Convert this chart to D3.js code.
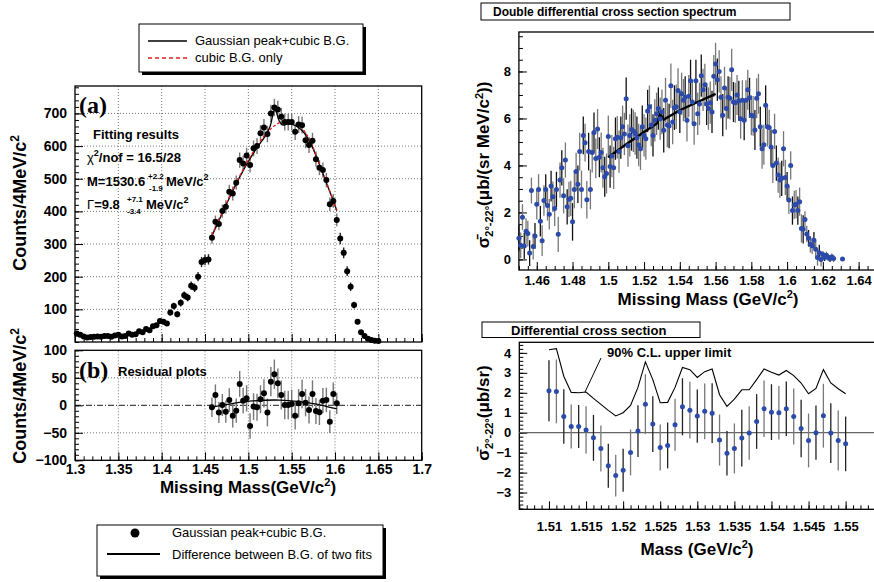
<!DOCTYPE html>
<html lang="en">
<head>
<meta charset="UTF-8">
<title>Missing mass spectra</title>
<script src="https://d3js.org/d3.v7.min.js"></script>
<style>
  body { margin: 0; background: #fff; }
  svg { font-family: "Liberation Sans", Arial, Helvetica, sans-serif; }
  .domain { display: none; }
  .tick line { stroke: #000; }
</style>
</head>
<body>
<svg width="874" height="582"></svg>
<script>
// ---------- panel (a): counts per 4 MeV/c2, first bin at 1.302 GeV ----------
const countsStart = 1.302, countsStep = 0.004;
const counts = [26, 22, 17, 14, 15, 16, 17, 16, 18, 18,
  16, 20, 22, 17, 18, 26, 22, 24, 33, 30,
  40, 36, 48, 51, 64, 62, 57, 90, 110, 85,
  120, 143, 136, 172, 166, 200, 245, 251, 253, 319,
  368, 361, 401, 414, 460, 455, 488, 557, 547, 571,
  542, 593, 600, 639, 657, 637, 700, 718, 712, 690,
  674, 674, 674, 644, 666, 664, 618, 603, 616, 560,
  534, 527, 496, 422, 432, 374, 317, 273, 217, 169,
  113, 62, 30, 18, 10, 6, 4, 3];
const fitFirstBin = 39, fitLastBin = 75;

// fit curves
const peakFitMass = [1.458, 1.47, 1.48, 1.49, 1.50, 1.51, 1.52, 1.525, 1.5306, 1.536, 1.54, 1.545, 1.55, 1.56, 1.57, 1.58, 1.59, 1.60, 1.602];
const peakFit     = [325, 395, 452, 505, 553, 595, 633, 660, 712, 675, 664, 668, 667, 652, 618, 557, 488, 418, 402];
const bgOnlyMass  = [1.458, 1.47, 1.48, 1.49, 1.50, 1.51, 1.52, 1.53, 1.54, 1.55, 1.56, 1.57, 1.58, 1.59, 1.60, 1.602];
const bgOnly      = [328, 397, 455, 508, 557, 600, 637, 662, 676, 676, 660, 623, 560, 490, 420, 404];

// ---------- panel (b): residuals, same bins as the fit range ----------
const residuals = [-3.6, 18.8, -13, 0.6, -11.5, 9.7, -19, -9.7, 38.8, 8.5,
  12.7, -37.6, -2.4, -3.6, 10.9, 21.8, -13, 43, 56.4, 40,
  18.8, 0.6, 0.6, 2.4, -18.8, 3.6, 20.6, 4.8, -8.5, 20.6,
  -10.3, -12.7, 8.5, 9.7, -29.7, 20.6, 3.6];
const bgDiffMass = [1.458, 1.4826, 1.5057, 1.5365, 1.5596, 1.5788, 1.598, 1.602];
const bgDiff     = [-3.5, 3.5, 8, 9.5, 6.5, 2, -5, -6];

// ---------- top right: double differential cross section, 1 MeV bins from 1.450 ----------
const ddStart = 1.450, ddStep = 0.001;
const ddValues = [0.9, 0.6, 1.8, 0.57, 1.2, 1.1, 0.27, 2.93, 0.55, 1.0,
  2.35, 2.98, 1.63, 0.8, 2.51, 2.98, 2.3, 1.92, 3.12, 2.67,
  2.17, 2.98, 1.07, 3.38, 3.9, 2.71, 4.23, 2.24, 2.56, 2.6,
  1.6, 2.98, 3.74, 3.2, 4.59, 2.98, 5.28, 4.97, 2.54, 4.59,
  2.98, 4.55, 5.4, 4.3, 5.55, 4.35, 4.55, 3.9, 3.52, 3.66,
  5.23, 3.95, 4.4, 3.9, 5.14, 5.2, 4.59, 5.18, 5.65, 5.34,
  6.84, 4.84, 5.28, 5.53, 5.47, 5.36, 5.18, 4.87, 4.71, 5.65,
  5.28, 5.14, 6.32, 6.5, 5.72, 5.28, 5.92, 6.2, 6.42, 5.99,
  6.28, 5.5, 6.78, 5.72, 5.68, 7.39, 5.85, 6.46, 6.5, 7.19,
  6.28, 7.05, 6.78, 6.9, 5.92, 6.95, 7.6, 6.7, 5.78, 7.6,
  6.2, 6.62, 7.82, 7.22, 7.43, 6.62, 6.42, 6.67, 6.28, 7.8,
  8.32, 7.65, 8.0, 6.9, 6.14, 7.3, 6.42, 6.9, 6.86, 8.07,
  6.7, 6.67, 7.0, 6.75, 5.99, 6.78, 5.92, 6.78, 7.22, 6.88,
  6.14, 6.11, 5.51, 6.86, 7.05, 5.65, 4.71, 4.88, 6.56, 5.65,
  5.62, 4.78, 4.0, 5.45, 4.1, 3.59, 3.38, 3.45, 4.71, 3.49,
  3.12, 2.53, 4.0, 2.08, 2.32, 2.35, 2.08, 2.46, 1.32, 1.28,
  1.7, 1.08, 0.9, 0.65, 0.58, 0.82, 0.43, 0.08, 0.28, 0.0,
  0.21, 0.08, 0.18, 0.08, 0.04, 0.1, 0.04, null, null, null,
  null, 0.02];
// error size read per block of 10 bins
const ddErrBlock = [0.55, 0.65, 0.75, 0.8, 0.85, 0.9, 0.9, 0.9, 0.95, 0.9,
  0.9, 0.9, 0.85, 0.85, 0.75, 0.6, 0.35, 0.15, 0.08];
const ddFitMass = [1.50, 1.51, 1.52, 1.527, 1.529, 1.531, 1.54, 1.55, 1.56];
const ddFit     = [4.35, 4.9, 5.42, 5.78, 6.2, 5.95, 6.35, 6.7, 7.05];

// ---------- bottom right: differential cross section, 1 MeV bins from 1.510 ----------
const dcsStart = 1.510, dcsStep = 0.001;
const dcs = [2.1, 2.07, 0.81, 0.31, 0.31, 0.14, -0.26, -0.79, -1.66, -2.15,
  -1.88, -0.99, 0.08, 1.43, 0.43, -0.74, -0.64, 0.4, 1.3, 1.13,
  0.83, 1.07, 0.98, -0.37, -1.03, -0.79, -0.27, -0.02, 0.56, 1.2,
  1.03, 1.0, 1.2, 0.81, 0.21, -0.39, 0.0, 0.85, -0.02, -0.39, -0.56];
const dcsErr = [1.53, 1.6, 1.37, 1.1, 1.08, 1.18, 1.15, 1.15, 1.1, 1.05,
  1.08, 1.15, 1.3, 1.5, 1.4, 1.15, 1.15, 1.3, 1.43, 1.42,
  1.33, 1.4, 1.5, 1.28, 1.12, 1.25, 1.42, 1.34, 1.37, 1.42,
  1.4, 1.34, 1.37, 1.4, 1.44, 1.35, 1.36, 1.6, 1.5, 1.5, 1.37];
const upperLimit = [4.16, 4.21, 2.83, 2.02, 2.0, 2.04, 1.72, 1.42, 1.12, 0.84,
  1.0, 1.37, 2.27, 3.55, 2.66, 1.5, 1.52, 2.27, 3.27, 3.16,
  2.77, 3.06, 3.19, 1.9, 1.32, 1.68, 2.15, 2.15, 2.66, 3.19,
  3.03, 2.89, 3.12, 2.86, 2.49, 1.95, 2.22, 3.16, 2.49, 2.2, 1.95];

const svg = d3.select("svg");
svg.append("rect").attr("width", 874).attr("height", 582).attr("fill", "#fff");

const BLUE = "#2b4aaa";

// draws ROOT-like inward ticks (major + minor) and a frame
function frame(x, y, o) {
    const g = svg.append("g");
    const [xl, xr] = x.range(), [yb, yt] = y.range();
    const addAxis = (axis, tr) => {
        const a = g.append("g").attr("transform", tr).call(axis)
            .attr("font-size", o.fontSize || 13).attr("font-family", null)
            .attr("font-weight", "bold");
        a.selectAll(".tick line").attr("stroke-width", 1);
        return a;
    };
    // x axis
    addAxis(d3.axisBottom(x).tickValues(o.xMinor).tickSize(-4).tickFormat(""), `translate(0,${yb})`);
    addAxis(d3.axisBottom(x).tickValues(o.xMajor).tickSize(-8).tickPadding(o.xPad || 4)
        .tickFormat(o.xLabels ? o.xFmt : ""), `translate(0,${yb})`);
    // y axis
    addAxis(d3.axisLeft(y).tickValues(o.yMinor).tickSize(-4).tickFormat(""), `translate(${xl},0)`);
    addAxis(d3.axisLeft(y).tickValues(o.yMajor).tickSize(-8).tickPadding(o.yPad || 8)
        .tickFormat(o.yFmt || d3.format("")), `translate(${xl},0)`);
    g.append("rect").attr("x", xl).attr("y", yt).attr("width", xr - xl).attr("height", yb - yt)
        .attr("fill", "none").attr("stroke", "#000").attr("stroke-width", 1.3);
    return g;
}

function grid(x, y, xs, ys) {
    const g = svg.append("g").attr("stroke", "#555").attr("stroke-width", 0.8)
        .attr("stroke-dasharray", "1,2");
    g.selectAll(".gx").data(xs).join("line")
        .attr("x1", d => x(d)).attr("x2", d => x(d)).attr("y1", y.range()[0]).attr("y2", y.range()[1]);
    g.selectAll(".gy").data(ys).join("line")
        .attr("y1", d => y(d)).attr("y2", d => y(d)).attr("x1", x.range()[0]).attr("x2", x.range()[1]);
}

function label(txt, x, y, size, opts = {}) {
    return svg.append("text").attr("x", x).attr("y", y).attr("font-size", size)
        .attr("font-weight", opts.weight || "bold").attr("text-anchor", opts.anchor || "start")
        .attr("font-family", opts.family || null).text(txt);
}

// ================= panel (a) =================
const xa = d3.scaleLinear([1.3, 1.7], [75, 421.7]);
const ya = d3.scaleLinear([0, 784], [342, 86]);
const yb = d3.scaleLinear([-100, 100], [460.3, 350.3]);

grid(xa, ya, d3.range(1.35, 1.69, 0.05), d3.range(100, 701, 100));
grid(xa, yb, d3.range(1.35, 1.69, 0.05), [-50, 50]);

frame(xa, ya, {
    xMajor: d3.range(1.3, 1.701, 0.05), xMinor: d3.range(1.3, 1.701, 0.01), xLabels: false,
    yMajor: d3.range(100, 701, 100), yMinor: d3.range(0, 781, 20), fontSize: 14
});
frame(xa, yb, {
    xMajor: d3.range(1.3, 1.701, 0.05), xMinor: d3.range(1.3, 1.701, 0.01), xLabels: true,
    xFmt: d3.format(".2~f"), xPad: 4,
    yMajor: [-100, -50, 0, 50, 100], yMinor: d3.range(-100, 101, 10), fontSize: 14
});

const aPts = counts.map((c, i) => ({ m: countsStart + i * countsStep, c, i }));
svg.append("g").selectAll("line").data(aPts).join("line")
    .attr("x1", d => xa(d.m)).attr("x2", d => xa(d.m))
    .attr("y1", d => ya(d.c + Math.sqrt(d.c))).attr("y2", d => ya(Math.max(0, d.c - Math.sqrt(d.c))))
    .attr("stroke", d => d.i >= fitFirstBin && d.i <= fitLastBin ? "#777" : "#222").attr("stroke-width", 1.4);

const lineA = d3.line().curve(d3.curveCatmullRom);
svg.append("path").attr("d", lineA(peakFitMass.map((m, i) => [xa(m), ya(peakFit[i])])))
    .attr("fill", "none").attr("stroke", "#000").attr("stroke-width", 1.3);
svg.append("path").attr("d", lineA(bgOnlyMass.map((m, i) => [xa(m), ya(bgOnly[i])])))
    .attr("fill", "none").attr("stroke", "#e02020").attr("stroke-width", 1.3)
    .attr("stroke-dasharray", "3,2");

svg.append("g").selectAll("circle").data(aPts).join("circle")
    .attr("cx", d => xa(d.m)).attr("cy", d => ya(d.c)).attr("r", 3).attr("fill", "#000");

// ================= panel (b) =================
svg.append("line").attr("x1", 75).attr("x2", 421.7).attr("y1", yb(0)).attr("y2", yb(0))
    .attr("stroke", "#000").attr("stroke-width", 0.9).attr("stroke-dasharray", "6,2,1,2");

const bPts = residuals.map((r, k) => ({ m: countsStart + (fitFirstBin + k) * countsStep, r,
    e: Math.sqrt(counts[fitFirstBin + k]) }));
svg.append("g").selectAll("line").data(bPts).join("line")
    .attr("x1", d => xa(d.m)).attr("x2", d => xa(d.m))
    .attr("y1", d => yb(d.r + d.e)).attr("y2", d => yb(d.r - d.e))
    .attr("stroke", "#777").attr("stroke-width", 1.4);
svg.append("path").attr("d", lineA(bgDiffMass.map((m, i) => [xa(m), yb(bgDiff[i])])))
    .attr("fill", "none").attr("stroke", "#000").attr("stroke-width", 1.3);
svg.append("g").selectAll("circle").data(bPts).join("circle")
    .attr("cx", d => xa(d.m)).attr("cy", d => yb(d.r)).attr("r", 3).attr("fill", "#000");

// panel texts
label("(a)", 79, 113, 24, { family: "'Liberation Serif', 'Times New Roman', serif" });
label("(b)", 79, 378, 24, { family: "'Liberation Serif', 'Times New Roman', serif" });
label("Residual plots", 118, 376, 13);
label("Fitting results", 93, 139, 13);
const chi = label("χ", 87, 162, 13).attr("font-weight", "normal");
chi.append("tspan").attr("font-size", 9).attr("dy", -6).attr("font-weight", "bold").text("2");
chi.append("tspan").attr("dy", 6).attr("font-weight", "bold").text("/nof = 16.5/28");
label("M=1530.6", 87, 186, 13);
label("+2.2", 148, 179, 8);
label("-1.9", 149, 191, 8);
label("MeV/c", 166, 186, 13).append("tspan").attr("font-size", 9).attr("dy", -6).text("2");
const gam = label("Γ", 87, 209, 13).attr("font-weight", "normal");
gam.append("tspan").attr("font-weight", "bold").text("=9.8");
label("+7.1", 127, 202, 8);
label("-3.4", 127, 214, 8);
label("MeV/c", 146, 209, 13).append("tspan").attr("font-size", 9).attr("dy", -6).text("2");

function yTitle(x, y, size, parts) {
    const t = svg.append("text").attr("transform", `translate(${x},${y}) rotate(-90)`)
        .attr("text-anchor", "middle").attr("font-size", size).attr("font-weight", "bold");
    parts.forEach(p => t.append("tspan").attr("font-size", p.size || size).attr("dy", p.dy || 0)
        .attr("font-weight", p.weight || "bold").text(p.t));
    return t;
}
yTitle(26, 203, 18, [{ t: "Counts/4MeV/c" }, { t: "2", size: 12, dy: -7 }]);
yTitle(26, 396, 18, [{ t: "Counts/4MeV/c" }, { t: "2", size: 12, dy: -7 }]);

const xtA = label("Missing Mass(GeV/c", 248, 493, 17, { anchor: "middle" });
xtA.append("tspan").attr("font-size", 11).attr("dy", -7).text("2");
xtA.append("tspan").attr("dy", 7).text(")");

// legends (left)
function legendBox(x, y, w, h) {
    svg.append("rect").attr("x", x + 3).attr("y", y + 3).attr("width", w).attr("height", h).attr("fill", "#000");
    svg.append("rect").attr("x", x).attr("y", y).attr("width", w).attr("height", h)
        .attr("fill", "#fff").attr("stroke", "#000").attr("stroke-width", 1);
}
legendBox(139, 24, 224, 48);
svg.append("line").attr("x1", 148).attr("x2", 187).attr("y1", 41).attr("y2", 41).attr("stroke", "#000").attr("stroke-width", 1.5);
svg.append("line").attr("x1", 148).attr("x2", 187).attr("y1", 58).attr("y2", 58).attr("stroke", "#e02020")
    .attr("stroke-width", 1.5).attr("stroke-dasharray", "4,3");
label("Gaussian peak+cubic B.G.", 195, 45, 13, { weight: "normal" });
label("cubic B.G. only", 195, 62, 13, { weight: "normal" });

legendBox(97, 525, 286, 51);
svg.append("circle").attr("cx", 135).attr("cy", 533).attr("r", 4.5).attr("fill", "#000");
svg.append("line").attr("x1", 107).attr("x2", 160).attr("y1", 554).attr("y2", 554).attr("stroke", "#000").attr("stroke-width", 1.8);
label("Gaussian peak+cubic B.G.", 172, 537, 13, { weight: "normal" });
label("Difference between B.G. of two fits", 172, 559, 13, { weight: "normal" });

// ================= top right =================
const xr = d3.scaleLinear([1.45, 1.65], [518.9, 876.5]);
const yr = d3.scaleLinear([-0.45, 9.68], [270, 32]);
frame(xr, yr, {
    xMajor: d3.range(1.46, 1.641, 0.02), xMinor: d3.range(1.45, 1.651, 0.005), xLabels: true,
    xFmt: d3.format(".2~f"), xPad: 6,
    yMajor: [0, 2, 4, 6, 8], yMinor: d3.range(0, 9.6, 0.5), fontSize: 13, yPad: 8
});
const ddPts = ddValues.map((v, i) => ({ m: ddStart + i * ddStep, v, e: ddErrBlock[Math.floor(i / 10)], i }))
    .filter(d => d.v !== null);
svg.append("g").selectAll("line").data(ddPts).join("line")
    .attr("x1", d => xr(d.m)).attr("x2", d => xr(d.m))
    .attr("y1", d => yr(d.v + d.e)).attr("y2", d => yr(Math.max(-0.3, d.v - d.e)))
    .attr("stroke", d => d.i % 3 === 0 ? "#111" : "#777").attr("stroke-width", 1.3);
svg.append("path").attr("d", d3.line()(ddFitMass.map((m, i) => [xr(m), yr(ddFit[i])])))
    .attr("fill", "none").attr("stroke", "#000").attr("stroke-width", 2.4);
svg.append("g").selectAll("circle").data(ddPts).join("circle")
    .attr("cx", d => xr(d.m)).attr("cy", d => yr(d.v)).attr("r", 2.5).attr("fill", BLUE);

svg.append("rect").attr("x", 481).attr("y", 3).attr("width", 309).attr("height", 17)
    .attr("fill", "#fff").attr("stroke", "#000");
label("Double differential cross section spectrum", 493, 16, 12);

yTitle(489, 165, 17, [{ t: "σ\u0304" }, { t: "2°-22°", size: 11, dy: 4 },
    { t: "(μb/(sr MeV/c", dy: -4 }, { t: "2", size: 11, dy: -6 }, { t: "))", dy: 6 }]);
const xtR = label("Missing Mass (GeV/c", 708, 305, 17, { anchor: "middle" });
xtR.append("tspan").attr("font-size", 11).attr("dy", -7).text("2");
xtR.append("tspan").attr("dy", 7).text(")");

// ================= bottom right =================
const xd = d3.scaleLinear([1.506, 1.554], [519.3, 875.3]);
const yd = d3.scaleLinear([-3.84, 4.53], [509.3, 342.3]);
frame(xd, yd, {
    xMajor: d3.range(1.51, 1.5501, 0.005), xMinor: d3.range(1.506, 1.554, 0.001), xLabels: true,
    xFmt: d3.format(".3~f"), xPad: 12,
    yMajor: d3.range(-3, 4.1, 1), yMinor: d3.range(-3.8, 4.5, 0.2), fontSize: 13, yPad: 8
});
svg.append("line").attr("x1", 519.3).attr("x2", 874).attr("y1", yd(0)).attr("y2", yd(0))
    .attr("stroke", "#666").attr("stroke-width", 1.2);
const dPts = dcs.map((v, i) => ({ m: dcsStart + i * dcsStep, v, e: dcsErr[i], u: upperLimit[i], i }));
svg.append("g").selectAll("line").data(dPts).join("line")
    .attr("x1", d => xd(d.m)).attr("x2", d => xd(d.m))
    .attr("y1", d => yd(d.v + d.e)).attr("y2", d => yd(d.v - d.e))
    .attr("stroke", d => d.i % 2 === 0 ? "#222" : "#777").attr("stroke-width", 1.3);
svg.append("path").attr("d", d3.line()(dPts.map(d => [xd(d.m), yd(d.u)])))
    .attr("fill", "none").attr("stroke", "#000").attr("stroke-width", 1.1);
svg.append("g").selectAll("circle").data(dPts).join("circle")
    .attr("cx", d => xd(d.m)).attr("cy", d => yd(d.v)).attr("r", 2.5).attr("fill", BLUE);

svg.append("rect").attr("x", 482).attr("y", 322).attr("width", 218).attr("height", 15.5)
    .attr("fill", "#fff").attr("stroke", "#000");
label("Differential cross section", 511, 334.5, 13);
label("90% C.L. upper limit", 607, 357, 13);
svg.append("line").attr("x1", 585).attr("y1", 392).attr("x2", 601).attr("y2", 358)
    .attr("stroke", "#000").attr("stroke-width", 1);
yTitle(489, 413, 17, [{ t: "σ\u0304" }, { t: "2°-22°", size: 11, dy: 4 }, { t: "(μb/sr)", dy: -4 }]);
const xtD = label("Mass (GeV/c", 697, 555, 17, { anchor: "middle" });
xtD.append("tspan").attr("font-size", 11).attr("dy", -7).text("2");
xtD.append("tspan").attr("dy", 7).text(")");
</script>
</body>
</html>
